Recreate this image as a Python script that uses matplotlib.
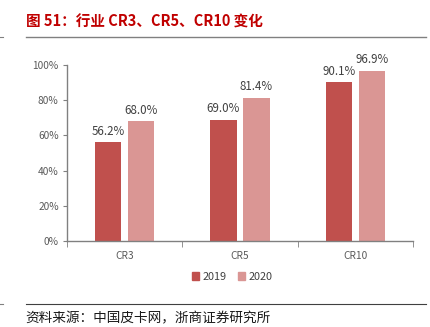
import matplotlib.pyplot as plt
import numpy as np
from matplotlib.lines import Line2D
from matplotlib.patches import Patch

plt.rcParams['font.family'] = ['Noto Sans CJK SC', 'DejaVu Sans']

categories = ["CR3", "CR5", "CR10"]
years = ["2019", "2020"]
values_2019 = [56.2, 69.0, 90.1]
values_2020 = [68.0, 81.4, 96.9]
colors = ["#C0504D", "#DA9694"]

fig = plt.figure(figsize=(4.30, 3.27), dpi=100)
ax = fig.add_axes([0.1558, 0.263, 0.8047, 0.538])

x = np.arange(len(categories))
width = 0.226
offset = 0.143

for vals, dx, color, year in zip([values_2019, values_2020], [-offset, offset], colors, years):
    bars = ax.bar(x + dx, vals, width=width, color=color, label=year, zorder=2)
    for b, v in zip(bars, vals):
        ax.text(b.get_x() + b.get_width() / 2, v + 2.5, "%.1f%%" % v,
                ha="center", va="bottom", fontsize=8.3, color="#404040")

ax.set_xlim(-0.5, len(categories) - 0.5)
ax.set_ylim(0, 100)
ax.set_yticks(range(0, 101, 20))
ax.set_yticklabels(["%d%%" % t for t in range(0, 101, 20)])
ax.set_xticks(x)
ax.set_xticklabels(categories)
ax.set_xticks(np.arange(-0.5, len(categories), 1), minor=True)
ax.tick_params(axis="x", which="major", length=0, pad=7)
ax.tick_params(axis="x", which="minor", length=4, color="#808080", direction="out")
ax.tick_params(axis="y", length=3, color="#808080", direction="out", pad=3)
ax.tick_params(labelsize=7.3, labelcolor="#595959")

for side in ["top", "right"]:
    ax.spines[side].set_visible(False)
for side in ["left", "bottom"]:
    ax.spines[side].set_color("#808080")
    ax.spines[side].set_linewidth(1.0)

handles = [Patch(color=c) for c in colors]
fig.legend(handles, years, loc="center", bbox_to_anchor=(0.54, 0.153), ncol=2,
           frameon=False, fontsize=7.8, handlelength=0.7, handleheight=0.7,
           handletextpad=0.3, columnspacing=1.0, labelcolor="#404040")

# heading and rules
fig.text(0.06, 0.933, "图 51：行业 CR3、CR5、CR10 变化", fontsize=10.5,
         fontweight="bold", color="#C00000", va="center", ha="left")
fig.add_artist(Line2D([0.06, 0.99], [0.887, 0.887], color="#808080", lw=1.0))
fig.add_artist(Line2D([0.06, 0.99], [0.070, 0.070], color="#404040", lw=0.8))
fig.add_artist(Line2D([0.0, 0.008], [0.887, 0.887], color="#808080", lw=0.8))
fig.add_artist(Line2D([0.0, 0.008], [0.070, 0.070], color="#808080", lw=0.8))
fig.text(0.06, 0.028, "资料来源：中国皮卡网，浙商证券研究所", fontsize=9.8,
         color="#1a1a1a", va="center", ha="left")

fig.savefig("out.png", dpi=100)
